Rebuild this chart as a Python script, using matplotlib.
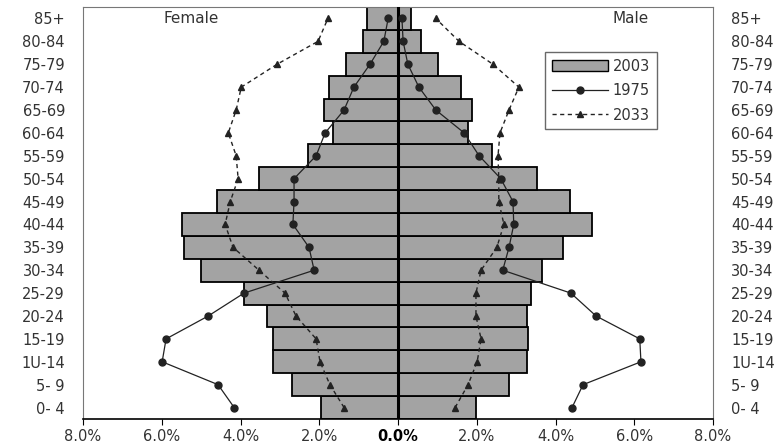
import numpy as np
import matplotlib
matplotlib.use('Agg')
import matplotlib.pyplot as plt
from matplotlib.patches import Patch
from matplotlib.lines import Line2D

# Age groups, bottom to top
ages = ['0- 4', '5- 9', '1U-14', '15-19', '20-24', '25-29', '30-34', '35-39', '40-44',
        '45-49', '50-54', '55-59', '60-64', '65-69', '70-74', '75-79', '80-84', '85+']

# 2003 population share (%)
female_2003 = [1.95, 2.69, 3.17, 3.17, 3.32, 3.91, 5.00, 5.43, 5.48,
               4.59, 3.53, 2.28, 1.65, 1.88, 1.75, 1.32, 0.89, 0.79]
male_2003 = [1.98, 2.82, 3.27, 3.30, 3.27, 3.38, 3.65, 4.19, 4.92,
             4.37, 3.53, 2.39, 1.78, 1.88, 1.60, 1.02, 0.58, 0.33]

# 1975
female_1975 = [4.16, 4.57, 5.99, 5.89, 4.82, 3.91, 2.13, 2.26, 2.67,
               2.64, 2.64, 2.08, 1.85, 1.37, 1.12, 0.71, 0.36, 0.25]
male_1975 = [4.42, 4.70, 6.17, 6.14, 5.03, 4.39, 2.66, 2.82, 2.94,
             2.92, 2.61, 2.06, 1.68, 0.96, 0.53, 0.25, 0.13, 0.10]

# 2033 projection
female_2033 = [1.37, 1.73, 1.98, 2.08, 2.59, 2.87, 3.53, 4.19, 4.39,
               4.26, 4.06, 4.11, 4.31, 4.11, 3.98, 3.07, 2.03, 1.78]
male_2033 = [1.45, 1.78, 2.01, 2.11, 1.98, 1.98, 2.11, 2.51, 2.69,
             2.56, 2.56, 2.54, 2.59, 2.82, 3.07, 2.41, 1.55, 0.96]

xticks = [-8, -6, -4, -2, 0, 2, 4, 6, 8]

y = np.arange(len(ages))
txt = '#333333'
bar_color = '#a3a3a3'
fs = 10.5

fig = plt.figure(figsize=(7.83, 4.45), dpi=100)
ax = fig.add_axes([83 / 783, 26 / 445, 630 / 783, 412 / 445])

ax.barh(y, -np.array(female_2003), height=1.0, color=bar_color, edgecolor='black', linewidth=1.3, zorder=2)
ax.barh(y, male_2003, height=1.0, color=bar_color, edgecolor='black', linewidth=1.3, zorder=2)
ax.axvline(0, color='black', linewidth=2.2, zorder=3)

ax.plot(-np.array(female_1975), y, color='#222222', lw=0.9, marker='o', ms=5, mfc='#222222', zorder=4)
ax.plot(male_1975, y, color='#222222', lw=0.9, marker='o', ms=5, mfc='#222222', zorder=4)
ax.plot(-np.array(female_2033), y, color='#222222', lw=1.0, ls=(0, (3, 2.5)), marker='^', ms=5, zorder=4)
ax.plot(male_2033, y, color='#222222', lw=1.0, ls=(0, (3, 2.5)), marker='^', ms=5, zorder=4)

ax.set_xlim(-8, 8)
ax.set_ylim(-0.5, len(ages) - 0.5)
ax.set_xticks(xticks)
ax.set_xticklabels(['%.1f%%' % abs(v) for v in xticks], fontsize=fs, color=txt)
ax.get_xticklabels()[4].set_fontweight('bold')
ax.get_xticklabels()[4].set_color('black')
ax.tick_params(axis='x', length=4, color='black', pad=3)

ax.set_yticks(y)
ax.set_yticklabels(ages, fontsize=fs, color=txt)
ax.tick_params(axis='y', length=0, pad=13, labelright=True, right=False)

for side in ['left', 'right', 'top']:
    ax.spines[side].set_color('#777777')
    ax.spines[side].set_linewidth(0.8)
ax.spines['bottom'].set_color('black')
ax.spines['bottom'].set_linewidth(1.2)

ax.text(-5.95, 17, 'Female', fontsize=11, color=txt, va='center', ha='left')
ax.text(5.45, 17, 'Male', fontsize=11, color=txt, va='center', ha='left')

handles = [
    Patch(facecolor=bar_color, edgecolor='black', linewidth=1.0),
    Line2D([], [], color='#222222', lw=0.9, marker='o', ms=5),
    Line2D([], [], color='#222222', lw=1.0, ls=(0, (3, 2.5)), marker='^', ms=5),
]
leg = ax.legend(handles, ['2003', '1975', '2033'], loc='upper left',
                bbox_to_anchor=((545 - 83) / 630, (419 - 52) / 412), fontsize=fs, frameon=True, fancybox=False,
                edgecolor='#444444', handlelength=3.9, handletextpad=0.3,
                labelspacing=0.65, borderpad=0.45, borderaxespad=0)
for t in leg.get_texts():
    t.set_color(txt)
leg.get_frame().set_linewidth(1.0)

fig.savefig('out.png', dpi=100)
